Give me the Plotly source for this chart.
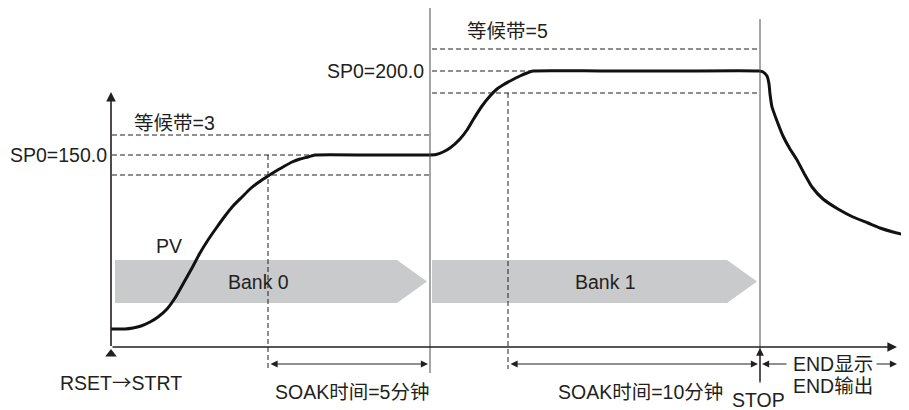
import plotly.graph_objects as go

# PV curve (x = time position, y = level position, screen units, y grows downward)
pv_t = [111, 125, 133, 141, 150, 158, 167, 175, 183, 192, 200, 208, 217, 225, 233, 242, 250, 259,
        268, 276, 283, 292, 300, 308, 315, 370, 428,
        436, 443, 450, 460, 467, 473, 482, 490, 497, 503, 512, 520, 527, 533, 600, 680, 759,
        763, 767, 769, 770, 772, 777, 783, 790, 797, 805, 812, 823, 838, 853, 868, 880, 893, 905]
pv_y = [329, 329, 328, 326, 322, 317, 309, 298, 284, 268, 253, 240, 227, 216, 206, 197, 189, 182,
        176, 171, 167, 162, 159, 157, 155, 155, 155,
        154.5, 152, 148, 139, 130, 120, 106, 96, 89, 85, 80, 76, 73, 71, 71, 71, 71,
        72, 76, 84, 94, 107, 121, 136, 149, 160, 175, 187, 199, 209, 217, 223, 228, 232, 235]

# step data: one entry per bank
banks = ['Bank 0', 'Bank 1']
bank_start = [111, 430]
bank_end = [430, 760]
sp_level = [155, 71]
sp_reach = [315, 533]
band_hi = [135, 49]
band_lo = [175, 93]
soak_start = [268, 508]
sp_labels = ['SP0=150.0', 'SP0=200.0']
band_labels = ['等候带=3', '等候带=5']
soak_labels = ['SOAK时间=5分钟', 'SOAK时间=10分钟']
soak_label_x = [352, 640]

axis_y = 347
arrow_row = 364
bar_top, bar_bot = 260, 303

FONT = 'Liberation Sans, Arial, Noto Sans CJK SC'
BLACK = '#231f20'
GREY = '#c9cacc'
FS = 19.5


def label(fig, x, y, text, anchor='center', size=FS, **kw):
    fig.add_annotation(x=x, y=y, text=text, showarrow=False, xanchor=anchor,
                       font=dict(size=size, color=BLACK, family=FONT), **kw)


def arrow(fig, x0, y0, x1, y1, width=1.2, size=1.3, both=False):
    extra = dict(arrowside='end+start', startarrowhead=2, startarrowsize=size) if both else {}
    fig.add_annotation(x=x1, y=y1, ax=x0, ay=y0, xref='x', yref='y', axref='x', ayref='y',
                       text='', showarrow=True, arrowhead=2, arrowsize=size, arrowwidth=width,
                       arrowcolor=BLACK, **extra)


fig = go.Figure()

# gray bank arrows
mid = (bar_top + bar_bot) / 2
for i, name in enumerate(banks):
    x0 = bank_start[i] + (4 if i == 0 else 2)
    x1 = bank_end[i] - 3
    body = x1 - 30
    fig.add_trace(go.Scatter(x=[x0, body, x1, body, x0, x0],
                             y=[bar_top, bar_top, mid, bar_bot, bar_bot, bar_top],
                             fill='toself', fillcolor=GREY, line=dict(width=0),
                             mode='lines', hoverinfo='skip', showlegend=False))

shapes = []
dash = dict(color=BLACK, width=1, dash='5px,3px')
for i in range(len(banks)):
    left = bank_start[i] + (1 if i == 0 else 2)
    for lvl in (band_hi[i], band_lo[i]):
        shapes.append(dict(type='line', x0=left, x1=bank_end[i], y0=lvl, y1=lvl, line=dash))
    shapes.append(dict(type='line', x0=left, x1=sp_reach[i], y0=sp_level[i], y1=sp_level[i], line=dash))
    top = sp_level[i] if i == 0 else band_lo[i]
    shapes.append(dict(type='line', x0=soak_start[i], x1=soak_start[i], y0=top, y1=arrow_row + 5, line=dash))

# solid step boundaries
shapes.append(dict(type='line', x0=bank_end[0], x1=bank_end[0], y0=6, y1=arrow_row + 9,
                   line=dict(color='#4d4d4f', width=1)))
shapes.append(dict(type='line', x0=bank_end[1], x1=bank_end[1], y0=19, y1=383,
                   line=dict(color='#4d4d4f', width=1)))
fig.update_layout(shapes=shapes)

# PV curve
fig.add_trace(go.Scatter(x=pv_t, y=pv_y, mode='lines',
                         line=dict(color='#111111', width=3, shape='spline', smoothing=0.5),
                         hoverinfo='skip', showlegend=False))

# axes
arrow(fig, bank_start[0], axis_y + 0.5, bank_start[0], 92, width=1.6, size=1.2)
arrow(fig, bank_start[0], axis_y, 897, axis_y, width=1.6, size=1.2)

# RSET marker and STOP arrow
fig.add_trace(go.Scatter(x=[bank_start[0]], y=[354], mode='markers',
                         marker=dict(symbol='triangle-up', size=10, color=BLACK, line=dict(width=0)),
                         hoverinfo='skip', showlegend=False))
arrow(fig, bank_end[1], 383, bank_end[1], axis_y + 1, width=1.2, size=1.3)

# soak double arrows and labels
for i in range(len(banks)):
    arrow(fig, soak_start[i] + 1, arrow_row, bank_end[i] - 2, arrow_row, width=1.1, size=1.3, both=True)
    label(fig, soak_label_x[i], 392, soak_labels[i])

label(fig, 132, 123, band_labels[0], anchor='left')
label(fig, 465, 31, band_labels[1], anchor='left')
label(fig, 109, sp_level[0], sp_labels[0], anchor='right')
label(fig, 426, sp_level[1], sp_labels[1], anchor='right')
label(fig, 169, 246, 'PV')
label(fig, 258, mid, banks[0])
label(fig, 605, mid, banks[1])

# END display arrows
arrow(fig, 788, arrow_row, 762, arrow_row, width=1.1, size=1.3)
arrow(fig, 875, arrow_row, 897, arrow_row, width=1.1, size=1.3)
label(fig, 833, arrow_row, 'END显示')
label(fig, 833, 386, 'END输出')

label(fig, 121, 381, "RSET<span style='font-family:Noto Sans CJK SC'>→</span>STRT")
label(fig, 758, 400, 'STOP')

# the page body keeps an 8px margin, so the plot starts at 8px
fig.update_xaxes(range=[8, 909], visible=False, fixedrange=True)
fig.update_yaxes(range=[410, 8], visible=False, fixedrange=True)
fig.update_layout(width=901, height=402, margin=dict(l=0, r=0, t=0, b=0),
                  plot_bgcolor='white', paper_bgcolor='white')

fig.write_html('out.html')
